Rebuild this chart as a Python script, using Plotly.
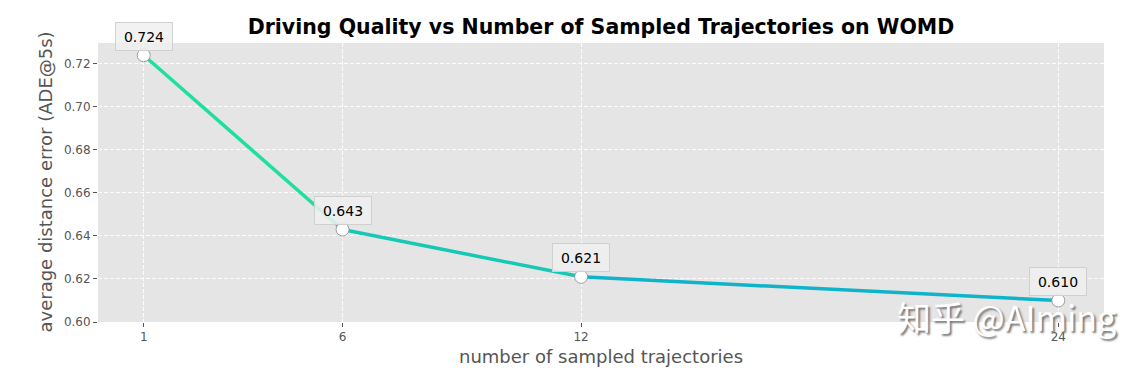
import plotly.graph_objects as go

num_trajectories = [1, 6, 12, 24]
ade_values = [0.724, 0.643, 0.621, 0.610]
value_labels = ["0.724", "0.643", "0.621", "0.610"]
y_ticks = [0.60, 0.62, 0.64, 0.66, 0.68, 0.70, 0.72]
segment_colors = ["#1ee09c", "#16c9b4", "#0fb4cb"]

FONT = "DejaVu Sans"
fig = go.Figure()

for i in range(len(num_trajectories) - 1):
    fig.add_trace(go.Scatter(
        x=num_trajectories[i:i + 2], y=ade_values[i:i + 2], mode="lines",
        line=dict(color=segment_colors[i], width=3.5), showlegend=False, hoverinfo="skip"))

fig.add_trace(go.Scatter(
    x=num_trajectories, y=ade_values, mode="markers",
    marker=dict(size=13, color="white", line=dict(color="#8a8a8a", width=0.8)),
    showlegend=False))

for xv, yv, lab in zip(num_trajectories, ade_values, value_labels):
    fig.add_annotation(x=xv, y=yv, text=lab, showarrow=False, yshift=19,
                       width=48, height=19,
                       font=dict(family=FONT, size=14, color="black"),
                       bgcolor="rgba(240,240,240,0.85)", bordercolor="#d0d0d0",
                       borderwidth=1, borderpad=4)

fig.add_annotation(xref="paper", yref="paper", x=0.5, y=-34 / 279, yanchor="middle",
                   text="number of sampled trajectories", showarrow=False,
                   font=dict(family=FONT, size=18, color="#555555"))
fig.add_annotation(xref="paper", yref="paper", x=-53 / 1006, y=0.5, textangle=-90,
                   xanchor="center", text="average distance error (ADE@5s)", showarrow=False,
                   font=dict(family=FONT, size=18, color="#555555"))
fig.add_annotation(xref="paper", yref="paper", x=1.0139, y=0.018, xanchor="right", yanchor="middle",
                   text="知乎 @AIming", showarrow=False,
                   font=dict(family="Noto Sans CJK SC", size=34, color="white",
                             shadow="2px 2px 2px #777777"))

fig.update_layout(
    width=1147, height=368,
    margin=dict(l=98, r=43, t=43, b=46),
    paper_bgcolor="white", plot_bgcolor="#e5e5e5",
    title=dict(text="<b>Driving Quality vs Number of Sampled Trajectories on WOMD</b>",
               x=601 / 1147, xanchor="center", y=1 - 27 / 368, yanchor="middle", yref="container",
               font=dict(family=FONT, size=20.5, color="black")),
    font=dict(family=FONT),
)
grid = dict(showgrid=True, gridcolor="rgba(255,255,255,0.9)", griddash="4px,2px", gridwidth=0.8,
            zeroline=False, showline=False, ticks="outside", ticklen=4,
            tickcolor="#555555", tickfont=dict(family=FONT, size=12, color="#555555"))
fig.update_xaxes(range=[-0.15, 25.15], tickmode="array", tickvals=num_trajectories,
                 ticktext=[str(v) for v in num_trajectories], **grid)
fig.update_yaxes(range=[0.60, 0.7297], tickmode="array", tickvals=y_ticks,
                 ticktext=[f"{v:.2f}" for v in y_ticks], **grid)

fig.write_html("out.html", config={"displayModeBar": False},
               post_script="document.body.style.margin='0';document.body.style.overflow='hidden';")
